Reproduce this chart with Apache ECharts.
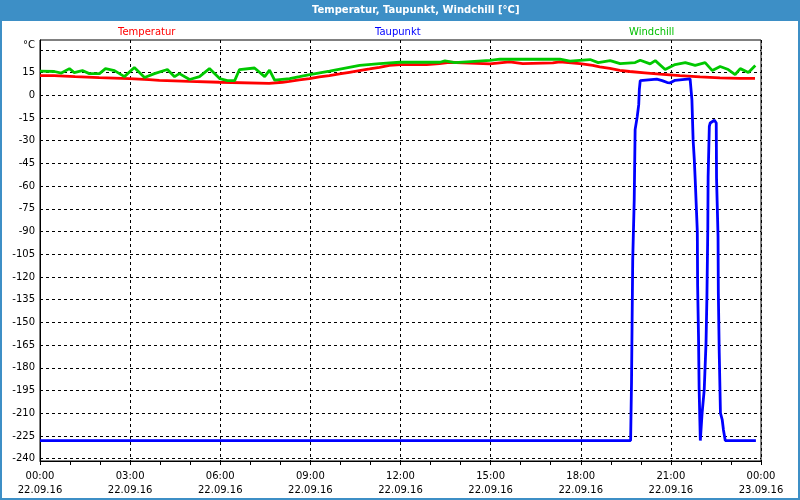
<!DOCTYPE html>
<html>
<head>
<meta charset="utf-8">
<title>Temperatur, Taupunkt, Windchill</title>
<script src="https://cdn.jsdelivr.net/npm/echarts@6.0.0/dist/echarts.min.js"></script>
<style>
  html, body { margin: 0; padding: 0; background: #fff; }
  #chart { width: 800px; height: 500px; }
</style>
</head>
<body>
<div id="chart"></div>
<script>
// hours since 22.09.16 00:00, values in °C
const tempHours = [0, 0.47, 0.5, 1.17, 1.2, 1.97, 2.0, 2.97, 3.0, 3.63, 3.67, 3.97, 4.0, 4.97, 5.0, 5.97, 6.0, 7.63, 7.67, 8.07,
  8.3, 8.63, 8.97, 9.3, 9.63, 9.97, 10.3, 10.63, 10.97, 11.3, 11.63, 12.0, 12.87, 12.9, 13.3, 13.33, 13.63, 13.67, 14.97, 15.0,
  15.3, 15.33, 15.63, 15.67, 16.07, 16.1, 17.07, 17.1, 17.3, 17.33, 17.97, 18.0, 18.4, 18.43, 18.63, 18.97, 19.3, 19.63, 20.13, 20.63,
  21.3, 21.97, 22.63, 23.3, 23.8]
const tempValues = [13.0, 13.0, 12.3, 12.3, 11.7, 11.7, 11.0, 11.0, 10.4, 10.4, 9.9, 9.9, 9.2, 9.2, 8.6, 8.6, 7.9, 7.9, 8.6, 8.6,
  9.2, 10.2, 11.0, 12.2, 13.0, 14.1, 15.2, 16.3, 17.4, 18.5, 19.8, 20.3, 20.3, 20.9, 20.9, 21.8, 21.8, 20.7, 20.7, 21.4,
  21.4, 22.1, 22.1, 20.9, 20.9, 21.4, 21.4, 22.1, 22.1, 20.9, 20.9, 19.8, 19.8, 18.8, 18.8, 17.8, 16.5, 15.7, 14.8, 13.9,
  13.0, 12.2, 11.5, 11.2, 11.2]

const dewHours = [0, 19.66, 19.69, 19.71, 19.73, 19.78, 19.81, 19.88, 19.93, 19.95, 19.98, 20.04, 20.53, 20.71, 20.88, 20.98, 21.14, 21.38, 21.64,
  21.70, 21.72, 21.74, 21.78, 21.81, 21.88, 21.89, 21.92, 21.94, 21.98, 22.01, 22.04, 22.11, 22.17, 22.2, 22.23, 22.24, 22.28, 22.31,
  22.45, 22.51, 22.52, 22.57, 22.58, 22.61, 22.65, 22.71, 22.75, 22.81, 23.83]
const dewValues = [-228, -228, -189.3, -148.3, -108.6, -69, -22.7, -14.1, -6.2, 3.8, 9.7, 10.4, 10.6, 9.7, 8.4, 8.2, 9.9, 10.4, 10.8,
  -2.9, -16.1, -29.3, -42.5, -55.8, -89.9, -125.2, -159.3, -193.3, -228, -218.8, -209.8, -194.6, -163.5, -132.9, -86.6, -53.6, -20.5, -18.3,
  -16.5, -18.3, -54.6, -93.2, -130.5, -170.1, -209.8, -214.4, -221, -228, -228]

const chillHours = [0, 0.48, 0.71, 0.98, 1.14, 1.41, 1.64, 1.98, 2.18, 2.48, 2.81, 3.14, 3.48, 3.81, 4.24, 4.48, 4.64, 4.98, 5.31, 5.64,
  5.98, 6.24, 6.48, 6.64, 7.14, 7.48, 7.64, 7.81, 8.31, 8.64, 8.98, 9.64, 10.64, 11.31, 11.98, 13.31, 13.48, 13.81, 14.98, 15.31,
  16.14, 17.31, 17.64, 18.31, 18.58, 18.98, 19.31, 19.81, 19.98, 20.31, 20.48, 20.81, 21.14, 21.48, 21.81, 22.14, 22.38, 22.64, 22.91, 23.14,
  23.31, 23.58, 23.81]
const chillValues = [15.9, 15.7, 14.7, 17.6, 15.0, 16.3, 14.3, 14.3, 17.6, 16.3, 12.3, 18.3, 11.7, 14.3, 17.0, 12.3, 14.3, 10.4, 12.3, 17.6,
  11.0, 9.7, 9.7, 17.0, 18.0, 12.3, 16.6, 10.0, 11.0, 12.3, 13.7, 15.9, 19.8, 20.9, 21.8, 21.8, 22.7, 21.6, 23.1, 23.8,
  23.8, 23.8, 22.5, 23.6, 21.6, 22.9, 20.9, 21.6, 23.1, 20.7, 22.9, 17.0, 20.3, 21.6, 19.8, 21.6, 16.3, 19.0, 17.0, 13.7,
  17.6, 15.0, 19.6]

const yTicks = [-240, -225, -210, -195, -180, -165, -150, -135, -120, -105, -90, -75, -60, -45, -30, -15, 0, 15, 30]
const timeLabels = ['00:00', '03:00', '06:00', '09:00', '12:00', '15:00', '18:00', '21:00', '00:00']
const dateLabels = ['22.09.16', '22.09.16', '22.09.16', '22.09.16', '22.09.16', '22.09.16', '22.09.16', '22.09.16', '23.09.16']

const font = 'DejaVu Sans'
const blueFrame = '#3d8fc6'
const zip = (hs, vs) => hs.map((h, i) => [h, vs[i]])

const legendItem = (name, color, left) => ({
  left: left,
  top: 27,
  padding: 0,
  icon: 'rect',
  itemWidth: 0,
  itemHeight: 0,
  selectedMode: false,
  textStyle: { fontFamily: font, fontSize: 10 },
  data: [{ name: name, textStyle: { color: color } }]
})

const option = {
  animation: false,
  backgroundColor: '#fff',
  title: {
    text: 'Temperatur, Taupunkt, Windchill [°C]',
    left: 312,
    top: 5,
    padding: 0,
    z: 10,
    textStyle: { color: '#fff', fontWeight: 'bold', fontSize: 10, fontFamily: font }
  },
  graphic: [
    { type: 'rect', z: 0, shape: { x: 0, y: 0, width: 800, height: 21 }, style: { fill: blueFrame } },
    { type: 'rect', z: 0, shape: { x: 1, y: 1, width: 798, height: 498 }, style: { fill: 'none', stroke: blueFrame, lineWidth: 2 } }
  ],
  legend: [
    legendItem('Temperatur', '#ff0000', 113),
    legendItem('Taupunkt', '#0000ff', 370),
    legendItem('Windchill', '#00c000', 624)
  ],
  grid: {
    left: 40, right: 39, top: 40, bottom: 39,
    show: true, borderColor: '#000', borderWidth: 1
  },
  xAxis: [
    {
      type: 'value', min: 0, max: 24, interval: 3,
      axisLine: { onZero: false, lineStyle: { color: '#000' } },
      axisTick: { show: false },
      axisLabel: {
        color: '#000', fontFamily: font, fontSize: 10, margin: 8, lineHeight: 14,
        formatter: v => timeLabels[v / 3] + '\n' + dateLabels[v / 3]
      },
      splitLine: { show: true, lineStyle: { color: '#000', type: [3, 3] } }
    },
    {
      type: 'value', min: 0, max: 24, interval: 1, position: 'bottom',
      axisLine: { show: false, onZero: false },
      axisTick: { show: true, length: 4, lineStyle: { color: '#000' } },
      axisLabel: { show: false },
      splitLine: { show: false }
    }
  ],
  yAxis: {
    type: 'value', min: -241.5, max: 36.5,
    axisLine: { show: true, onZero: false, lineStyle: { color: '#000' } },
    axisTick: { show: false, customValues: yTicks },
    axisLabel: {
      customValues: yTicks,
      color: '#000', fontFamily: font, fontSize: 10, margin: 5,
      formatter: v => v === 30 ? '{unit|°C}' : String(v),
      rich: { unit: { fontFamily: font, fontSize: 10, color: '#000', padding: [0, 0, 8, 0] } }
    },
    splitLine: { show: true, lineStyle: { color: '#000', type: [3, 3] } }
  },
  series: [
    {
      name: 'Temperatur', type: 'line', showSymbol: false, xAxisIndex: 0,
      lineStyle: { color: '#ff0000', width: 2.8 }, itemStyle: { color: '#ff0000' },
      data: zip(tempHours, tempValues)
    },
    {
      name: 'Taupunkt', type: 'line', showSymbol: false, xAxisIndex: 0,
      lineStyle: { color: '#0000ff', width: 2.8 }, itemStyle: { color: '#0000ff' },
      data: zip(dewHours, dewValues)
    },
    {
      name: 'Windchill', type: 'line', showSymbol: false, xAxisIndex: 0,
      lineStyle: { color: '#00c800', width: 2.8 }, itemStyle: { color: '#00c800' },
      data: zip(chillHours, chillValues)
    }
  ]
}

const chart = echarts.init(document.getElementById('chart'))
chart.setOption(option)
</script>
</body>
</html>
